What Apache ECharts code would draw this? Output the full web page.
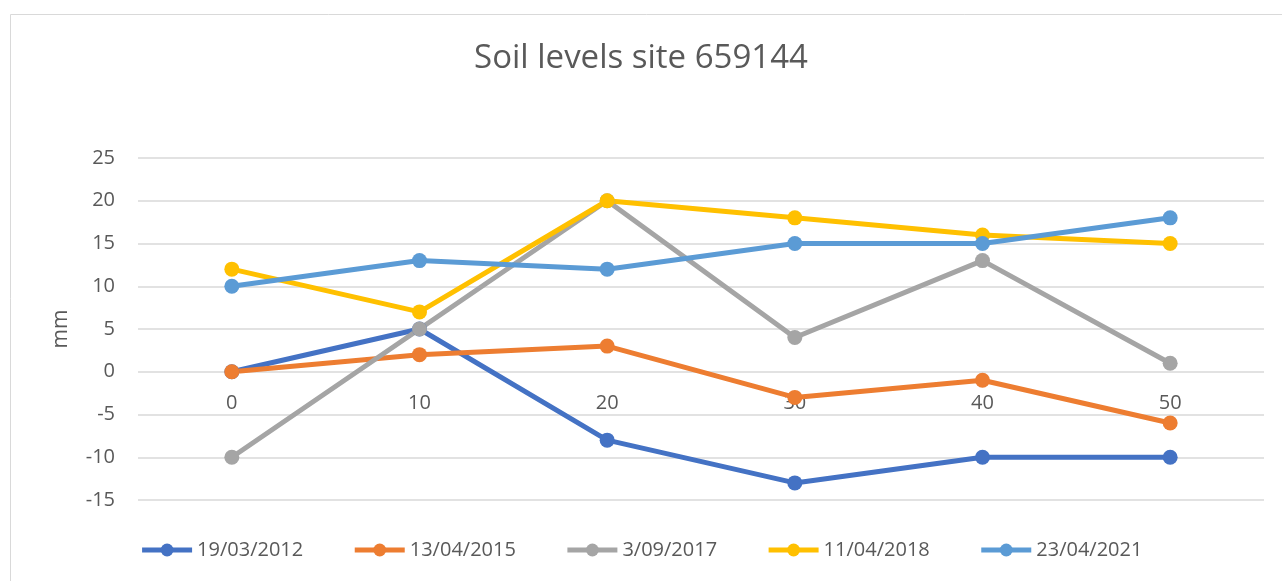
<!DOCTYPE html>
<html><head><meta charset="utf-8">
<script src="https://cdn.jsdelivr.net/npm/echarts@6/dist/echarts.min.js"></script>
<style>html,body{margin:0;padding:0;background:#fff}#c{width:1282px;height:581px}</style>
</head><body><div id="c"></div>
<script>
const categories = ['0','10','20','30','40','50'];
const seriesNames = ['19/03/2012','13/04/2015','3/09/2017','11/04/2018','23/04/2021'];
const s2012 = [0, 5, -8, -13, -10, -10];
const s2015 = [0, 2, 3, -3, -1, -6];
const s2017 = [-10, 5, 20, 4, 13, 1];
const s2018 = [12, 7, 20, 18, 16, 15];
const s2021 = [10, 13, 12, 15, 15, 18];
const colors = ['#4472C4','#ED7D31','#A5A5A5','#FFC000','#5B9BD5'];
const values = [s2012, s2015, s2017, s2018, s2021];
const FONT = 'Open Sans';
const chart = echarts.init(document.getElementById('c'));
chart.setOption({
  animation: false,
  color: colors,
  textStyle: {fontFamily: FONT},
  graphic: [{type:'rect', shape:{x:10.5,y:14.5,width:1300,height:600}, style:{fill:'none', stroke:'#d9d9d9', lineWidth:1}, silent:true, z:-1}],
  title: {text:'Soil levels site 659144', left:'center', top:37, textStyle:{fontFamily:FONT, fontSize:33, fontWeight:'normal', color:'#595959'}},
  legend: {bottom:16, left:'center', itemWidth:50, itemHeight:16, itemGap:49,
    lineStyle:{width:5}, textStyle:{fontFamily:FONT, fontSize:20, color:'#595959'}, data: seriesNames},
  grid: {left:138, right:18, top:158, bottom:81, containLabel:false},
  xAxis: {type:'category', data:categories, boundaryGap:true, offset:-128,
    axisLine:{show:false, onZero:false}, axisTick:{show:false},
    axisLabel:{color:'#595959', fontSize:20, margin:21, fontFamily:FONT}},
  yAxis: {type:'value', min:-15, max:25, interval:5, name:'mm', nameLocation:'middle', nameGap:66, nameRotate:90,
    nameTextStyle:{color:'#595959', fontSize:21, fontFamily:FONT},
    axisLine:{show:false}, axisTick:{show:false},
    axisLabel:{color:'#595959', fontSize:20, margin:23, fontFamily:FONT},
    splitLine:{lineStyle:{color:'#d9d9d9', width:1.5}}},
  series: values.map((v,i)=>({name:seriesNames[i], type:'line', data:v, symbol:'circle', symbolSize:15,
    lineStyle:{width:5, color:colors[i]}, itemStyle:{color:colors[i]}}))
});
</script></body></html>
